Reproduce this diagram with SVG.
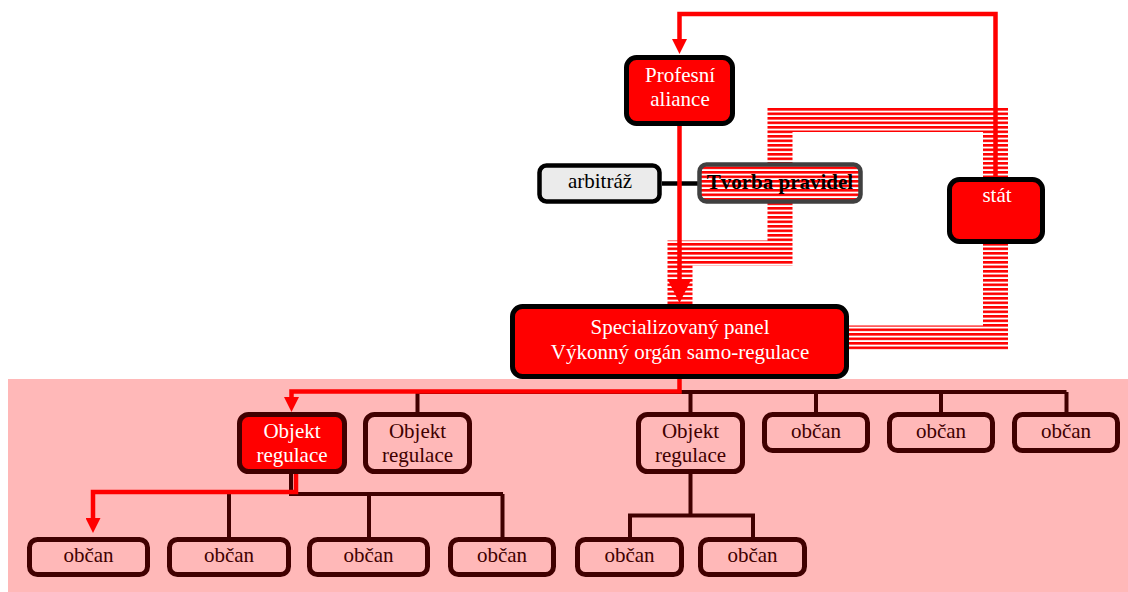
<svg xmlns="http://www.w3.org/2000/svg" width="1128" height="592" viewBox="0 0 1128 592">
<style>
text{font-family:"Liberation Serif","Times New Roman",serif;font-size:21px;text-anchor:middle}
.w{fill:#fff}.m{fill:#400000}.k{fill:#000}
.bk{stroke:#000;stroke-width:5}
.mb{stroke:#400000;stroke-width:5}
.red{fill:#f00}.pink{fill:#ffb8b8}
.rl{fill:none;stroke:#f00;stroke-width:4.5}
.dl{fill:none;stroke:#400000;stroke-width:4}
.band{fill:none;stroke:url(#stripes);stroke-width:25;stroke-linejoin:miter}
</style>
<defs>
<pattern id="stripes" patternUnits="userSpaceOnUse" width="10" height="4.5">
<rect width="10" height="4.5" fill="#fff"/>
<rect width="10" height="2.6" fill="#f00"/>
</pattern>
<marker id="ah" viewBox="0 0 15 15" markerWidth="15" markerHeight="15" refX="0" refY="7.5" orient="auto" markerUnits="userSpaceOnUse">
<path d="M0,0 L15,7.5 L0,15 z" fill="#f00"/>
</marker>
<marker id="ahb" viewBox="0 0 24 24" markerWidth="24" markerHeight="24" refX="0" refY="12" orient="auto" markerUnits="userSpaceOnUse">
<path d="M0,0 L24,12 L0,24 z" fill="#f00"/>
</marker>
</defs>
<rect x="8" y="379" width="1120" height="213" fill="#ffb8b8"/>
<g id="connectors">
<path class="band" d="M780,163 V119.5 H995.5 V178"/>
<path class="band" d="M780,203 V253 H680 V304"/>
<path class="band" d="M995.5,243 V338 H848"/>
<path d="M662,183.5 H698" fill="none" stroke="#000" stroke-width="4.5"/>
<path class="rl" d="M995.5,178 V14 H679.5 V39" marker-end="url(#ah)"/>
<path class="rl" d="M679.5,126 V279" marker-end="url(#ahb)"/>
<path class="dl" d="M417.5,392 H1066.5 M417.5,392 V413 M690.5,392 V413 M816,392 V413 M941,392 V413 M1066.5,392 V413"/>
<path class="rl" d="M679.5,378 V391.5 H291.5 V397" marker-end="url(#ah)"/>
<path class="dl" d="M291,473 V494 H503 M229,494 V538 M369,494 V538 M502.5,494 V538"/>
<path class="rl" d="M296,473 V492 H93 V518" marker-end="url(#ah)"/>
<path class="dl" d="M690.5,473 V515.5 M630,538 V515.5 H753 V538"/>
</g>
<g id="profesni-aliance">
<rect class="red bk" x="626.5" y="57.5" width="106" height="66" rx="10"/>
<text class="w" x="680" y="82">Profesní</text>
<text class="w" x="680" y="106">aliance</text>
</g>
<g id="arbitraz">
<rect x="539.5" y="165.5" width="120" height="36" rx="7" fill="#ebebeb" stroke="#000" stroke-width="4.5"/>
<text class="k" x="600" y="188">arbitráž</text>
</g>
<g id="tvorba-pravidel">
<rect x="699.5" y="164.5" width="161" height="37" rx="7" fill="url(#stripes)" stroke="#404040" stroke-width="4.5"/>
<text class="k" x="780" y="189" font-weight="bold">Tvorba pravidel</text>
</g>
<g id="stat">
<rect class="red bk" x="949.5" y="179.5" width="93" height="62" rx="10"/>
<text class="w" x="997" y="202">stát</text>
</g>
<g id="specializovany-panel">
<rect class="red bk" x="512.5" y="306.5" width="334" height="70" rx="10"/>
<text class="w" x="680" y="334">Specializovaný panel</text>
<text class="w" x="680" y="359">Výkonný orgán samo-regulace</text>
</g>
<g id="objekt-1">
<rect class="red mb" x="239.5" y="414.5" width="105" height="57" rx="9"/>
<text class="w" x="292" y="438">Objekt</text>
<text class="w" x="292" y="462">regulace</text>
</g>
<g id="objekt-2">
<rect class="pink mb" x="365.5" y="414.5" width="104" height="57" rx="9"/>
<text class="m" x="417.5" y="438">Objekt</text>
<text class="m" x="417.5" y="462">regulace</text>
</g>
<g id="objekt-3">
<rect class="pink mb" x="638.5" y="414.5" width="104" height="57" rx="9"/>
<text class="m" x="690.5" y="438">Objekt</text>
<text class="m" x="690.5" y="462">regulace</text>
</g>
<g id="obcan-t1"><rect class="pink mb" x="764.5" y="414.5" width="103" height="36" rx="8"/><text class="m" x="816" y="438">občan</text></g>
<g id="obcan-t2"><rect class="pink mb" x="889.5" y="414.5" width="103" height="36" rx="8"/><text class="m" x="941" y="438">občan</text></g>
<g id="obcan-t3"><rect class="pink mb" x="1014.5" y="414.5" width="103" height="36" rx="8"/><text class="m" x="1066" y="438">občan</text></g>
<g id="obcan-b1"><rect class="pink mb" x="29.5" y="539.5" width="118" height="35" rx="8"/><text class="m" x="88.5" y="562">občan</text></g>
<g id="obcan-b2"><rect class="pink mb" x="169.5" y="539.5" width="119" height="35" rx="8"/><text class="m" x="229" y="562">občan</text></g>
<g id="obcan-b3"><rect class="pink mb" x="309.5" y="539.5" width="118" height="35" rx="8"/><text class="m" x="368.5" y="562">občan</text></g>
<g id="obcan-b4"><rect class="pink mb" x="450.5" y="539.5" width="103" height="35" rx="8"/><text class="m" x="502" y="562">občan</text></g>
<g id="obcan-b5"><rect class="pink mb" x="577.5" y="539.5" width="104" height="35" rx="8"/><text class="m" x="629.5" y="562">občan</text></g>
<g id="obcan-b6"><rect class="pink mb" x="700.5" y="539.5" width="104" height="35" rx="8"/><text class="m" x="752.5" y="562">občan</text></g>
</svg>
